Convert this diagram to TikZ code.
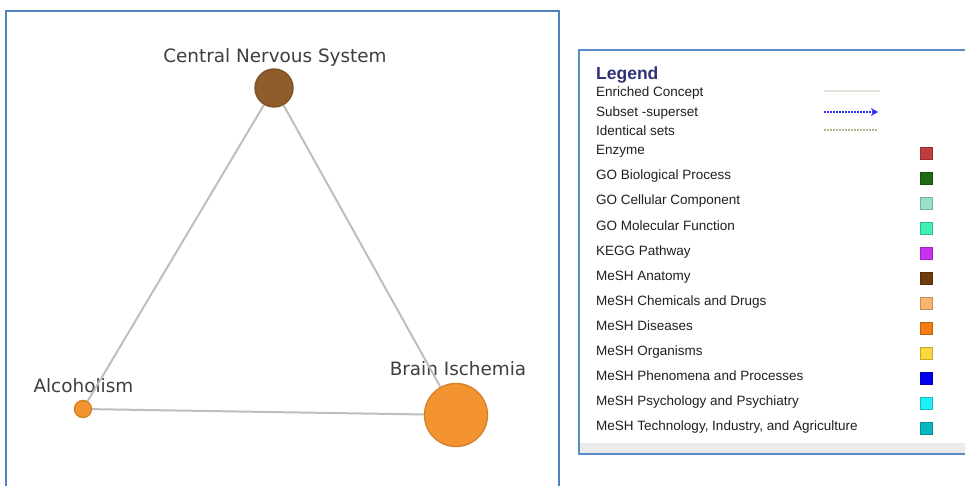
\documentclass[tikz,border=0pt]{standalone}
\usepackage{fontspec}
\setmainfont{Liberation Sans}
\newfontfamily\dejavu{DejaVu Sans}
\usetikzlibrary{arrows.meta,positioning}

\definecolor{frameblue}{HTML}{4F81BD}
\definecolor{legframe}{HTML}{5B8AC8}
\definecolor{edgegrey}{HTML}{BEBEBE}
\definecolor{labelgrey}{HTML}{3E3E3E}
\definecolor{anatomy}{HTML}{8F5D2C}
\definecolor{disease}{HTML}{F39430}
\definecolor{legnavy}{HTML}{2E3178}
\definecolor{enrich}{HTML}{E4E2D4}
\definecolor{subsetblue}{HTML}{3030FF}
\definecolor{identical}{HTML}{B0BC8E}
\definecolor{enzyme}{HTML}{C23B3F}
\definecolor{gobp}{HTML}{1E6A12}
\definecolor{gocc}{HTML}{99E0C8}
\definecolor{gomf}{HTML}{40F2B2}
\definecolor{kegg}{HTML}{C930F0}
\definecolor{manat}{HTML}{6E3B0C}
\definecolor{mchem}{HTML}{FDB46C}
\definecolor{mdis}{HTML}{F57C10}
\definecolor{morg}{HTML}{FCD83E}
\definecolor{mphen}{HTML}{0000EE}
\definecolor{mpsy}{HTML}{1EF0F8}
\definecolor{mtech}{HTML}{08B8C0}

\begin{document}
\begin{tikzpicture}[x=1pt,y=-1pt,
  concept/.style={circle,draw=#1!88!black,fill=#1,line width=1.4pt,inner sep=0pt},
  clabel/.style={font=\dejavu\fontsize{18.4}{20}\selectfont,text=labelgrey,inner sep=0pt,anchor=base},
  edge/.style={draw=edgegrey,line width=2pt},
  legtext/.style={font=\fontsize{13.5}{15}\selectfont,text=black!88,inner sep=0pt,anchor=base west},
  swatch/.style={draw=#1!78!black,fill=#1,minimum size=12.2pt,inner sep=0pt,line width=0.8pt}]
\useasboundingbox (0,0) rectangle (965,486);

% graph panel
\draw[frameblue,line width=2.2pt] (5.7,490) |- (558.7,11) -- (558.7,490);
\node[concept=anatomy,minimum size=38pt] (cns) at (274,88) {};
\node[concept=disease,minimum size=17pt] (alc) at (83,409) {};
\node[concept=disease,minimum size=63pt] (bi) at (456,415) {};
\node[clabel] (cnslab) at (275,62.7) {Central Nervous System};
\node[clabel] (alclab) at (83.4,392.7) {Alcoholism};
\node[clabel] (bilab) at (458,375.7) {Brain Ischemia};
\draw[edge] (cns) -- (alc);
\draw[edge] (cns) -- (bi);
\draw[edge] (alc) -- (bi);

% legend panel
\fill[black!8] (580,443) rectangle (965,453);
\draw[legframe,line width=1.6pt] (965,50) -| (579,454) -- (965,454);
\node[legtext,font=\bfseries\fontsize{17.5}{19}\selectfont,text=legnavy] (legtitle) at (596,79.5) {Legend};
\node[legtext] (legenr) at (596,97) {Enriched Concept};
\node[legtext] (legsub) at (596,116.5) {Subset -superset};
\node[legtext] (legide) at (596,136) {Identical sets};
\coordinate (enr0) at (824,91);  \coordinate (enr1) at (880,91);
\coordinate (sub0) at (824,112); \coordinate (sub1) at (878,112);
\coordinate (ide0) at (824,130); \coordinate (ide1) at (878,130);
\draw[enrich,line width=2.4pt] (enr0) -- (enr1);
\draw[subsetblue,line width=1.8pt,dash pattern=on 1.5pt off 1.5pt,-{Stealth[length=7pt,width=8pt]}] (sub0) -- (sub1);
\draw[identical,line width=1.9pt,dash pattern=on 1.5pt off 1.5pt] (ide0) -- (ide1);
\foreach \t/\c [count=\i from 0] in {Enzyme/enzyme,GO Biological Process/gobp,GO Cellular Component/gocc,
  GO Molecular Function/gomf,KEGG Pathway/kegg,MeSH Anatomy/manat,MeSH Chemicals and Drugs/mchem,
  MeSH Diseases/mdis,MeSH Organisms/morg,MeSH Phenomena and Processes/mphen,
  MeSH Psychology and Psychiatry/mpsy,{MeSH Technology, Industry, and Agriculture}/mtech} {
  \node[legtext] (leg\i) at (596,{155+25*\i}) {\t};
  \node[swatch=\c] (sw\i) at (926.5,{153.5+25*\i}) {};
}
\end{tikzpicture}
\end{document}
